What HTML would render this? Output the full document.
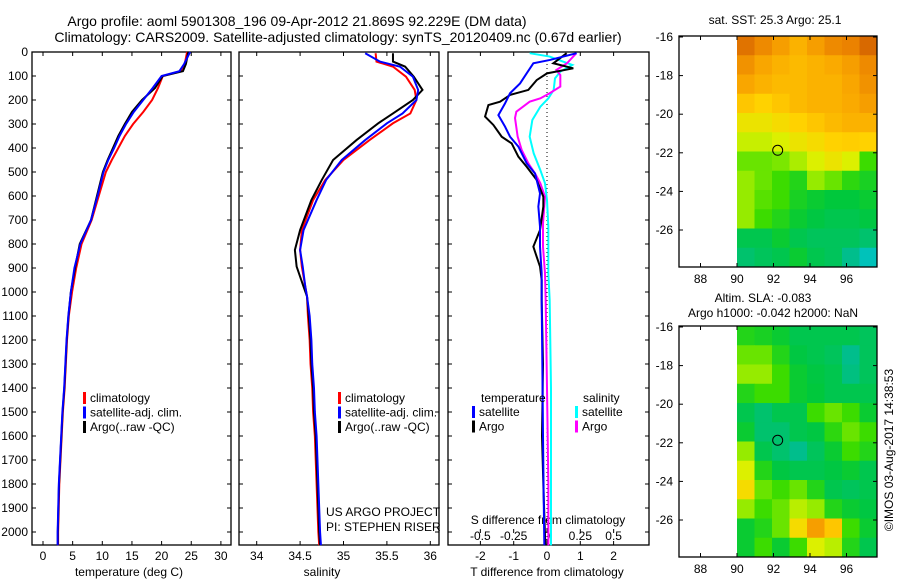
<!DOCTYPE html>
<html><head><meta charset="utf-8"><style>
body{margin:0;background:#fff;width:900px;height:580px;overflow:hidden}
svg{font-family:"Liberation Sans",sans-serif;font-size:12px}
</style></head><body>
<svg id="c" width="900" height="580"></svg>
<script>
// ---- data ----
const depthAxisTicks=[0,100,200,300,400,500,600,700,800,900,1000,1100,1200,1300,1400,1500,1600,1700,1800,1900,2000];
const tempTicks=[0,5,10,15,20,25,30];
const salTicks=[34,34.5,35,35.5,36];
const salTickLabels=["34","34.5","35","35.5","36"];
const tdTicks=[-2,-1,0,1,2];
const sdTicks=[-0.5,-0.25,0,0.25,0.5];
const sdTickLabels=["-0.5","-0.25","0","0.25","0.5"];
const deepDepths=[1100,1200,1300,1400,1500,1600,1700,1800,1900,2000,2055];
const tempDepths=[0,50,80,100,150,200,250,300,350,400,450,500,600,700,800,900,1000];
const tempArgo=[24.5,24.1,23.6,20.2,18.9,16.7,15.0,13.8,12.7,11.8,10.9,10.1,9.1,8.1,6.2,5.4,4.7];
const tempClim=[24.3,23.9,23.2,20.2,19.4,18.4,16.9,15.2,13.8,12.7,11.6,10.6,9.4,8.2,6.5,5.6,4.9];
const tempSat=[24.8,23.8,23.0,20.0,18.5,16.9,15.3,14.0,12.9,12.0,11.0,10.2,9.2,8.1,6.3,5.3,4.7];
const tempDeep=[4.3,4.0,3.8,3.6,3.3,3.1,2.9,2.7,2.6,2.5,2.5];
const salDepths=[5,40,61,103,158,200,256,297,367,450,533,617,742,825,894,978,1019];
const salClim=[35.37,35.38,35.57,35.72,35.82,35.84,35.77,35.57,35.30,35.00,34.79,34.65,34.52,34.50,34.52,34.56,34.58];
const salSat=[35.25,35.42,35.65,35.80,35.86,35.84,35.68,35.50,35.25,34.98,34.80,34.69,34.54,34.50,34.53,34.56,34.58];
const salArgo=[35.57,35.57,35.71,35.81,35.91,35.80,35.57,35.40,35.15,34.88,34.75,34.63,34.50,34.44,34.46,34.54,34.58];
const salDeep=[34.60,34.62,34.63,34.65,34.66,34.68,34.69,34.70,34.71,34.72,34.73];
const tdArgoD=[5,47,68,89,117,158,179,207,221,269,304,353,381,436,478,533,603,644,742,811,853,894,950,1033,1300,1600,1850,2055];
const tdArgo=[0.59,0.19,0.79,0,-0.31,-0.56,-1.11,-1.41,-1.76,-1.86,-1.61,-1.36,-1.06,-0.86,-0.61,-0.31,-0.11,-0.11,-0.21,-0.41,-0.31,-0.21,-0.16,-0.16,-0.12,-0.15,-0.1,-0.05];
const tdSatD=[5,33,47,89,131,172,214,263,311,353,394,464,506,589,644,728,811,922,1033,1300,1600,1850,2055];
const tdSat=[0.89,0.09,-0.41,-0.61,-0.81,-1.11,-1.26,-1.46,-1.26,-1.11,-0.86,-0.61,-0.36,-0.21,-0.26,-0.21,-0.21,-0.16,-0.16,-0.14,-0.12,-0.1,-0.08];
const sdArgoD=[5,47,75,96,144,172,193,207,249,275,353,408,464,506,547,603,714,811,922,1033,1400,1800,2055];
const sdArgo=[0.22,0.15,0.07,0.10,0.10,0.02,-0.05,-0.13,-0.23,-0.24,-0.22,-0.19,-0.14,-0.09,-0.05,-0.015,-0.03,-0.03,-0.015,-0.01,0.0,0.01,0.01];
const sdSatD=[5,19,40,54,82,110,158,193,228,283,353,422,492,547,617,728,922,1033,1400,1800,2055];
const sdSat=[-0.13,0.02,0.12,0.19,0.10,0.06,0.05,0.01,-0.05,-0.11,-0.13,-0.10,-0.05,-0.015,0,0.01,0.01,0.02,0.03,0.03,0.03];
const lonTicks=[88,90,92,94,96];
const latTicks=[-16,-18,-20,-22,-24,-26];
const sstGrid=[
[.95,.9,.85,.8,.85,.9,.92,.97],[.88,.83,.8,.78,.8,.82,.85,.9],[.83,.8,.78,.78,.8,.8,.83,.88],
[.75,.72,.75,.78,.8,.8,.82,.85],[.68,.68,.7,.72,.75,.78,.8,.8],[.62,.62,.65,.68,.7,.72,.73,.72],
[.5,.5,.52,.58,.65,.68,.65,.45],[.55,.5,.45,.4,.55,.5,.42,.38],[.55,.48,.45,.38,.35,.33,.33,.35],
[.55,.45,.4,.35,.32,.3,.3,.32],[.3,.3,.35,.3,.28,.28,.28,.25],[.25,.28,.3,.35,.3,.28,.2,.12]];
const slaGrid=[
[.4,.38,.35,.3,.3,.3,.3,.28],[.5,.5,.4,.32,.3,.28,.2,.28],[.55,.55,.45,.35,.32,.3,.22,.28],
[.4,.45,.45,.35,.33,.3,.3,.3],[.3,.25,.3,.3,.45,.5,.45,.35],[.35,.25,.25,.3,.32,.42,.5,.45],
[.55,.3,.25,.2,.28,.35,.45,.4],[.65,.4,.32,.3,.3,.32,.35,.3],[.7,.5,.45,.5,.4,.3,.28,.3],
[.55,.45,.5,.6,.55,.4,.35,.32],[.35,.4,.5,.7,.85,.75,.45,.35],[.35,.45,.35,.45,.65,.6,.4,.3]];
const floatLon=92.229, floatLat=-21.869;

const NS="http://www.w3.org/2000/svg";
const svg=document.getElementById('c');
function el(tag,attrs,parent){const e=document.createElementNS(NS,tag);for(const k in attrs)e.setAttribute(k,attrs[k]);(parent||svg).appendChild(e);return e;}
function txt(s,x,y,anchor,parent,size){const t=el('text',{x:x,y:y,'text-anchor':anchor||'middle'},parent);if(size)t.setAttribute('font-size',size);t.textContent=s;return t;}
const yD=d=>52+d*0.24;
const xT=t=>43+t*5.93;
const xS=s=>256.7+(s-34)*86.8;
const xTD=v=>547+v*33.3;
const xSD=v=>547+v*133.3;
const TOP=52,BOT=545;

function panel(name,x0,x1){
  const g=el('g',{});
  
  
  el('rect',{x:x0,y:TOP,width:x1-x0,height:BOT-TOP,fill:'none',stroke:'#000','stroke-width':1.3},g);
  depthAxisTicks.forEach(d=>{el('line',{x1:x0,x2:x0+4,y1:yD(d),y2:yD(d),stroke:'#000'},g);el('line',{x1:x1-4,x2:x1,y1:yD(d),y2:yD(d),stroke:'#000'},g);});
  return g;
}
function line(g,name,xs,ds,color,xf,w){
  const p=el('polyline',{points:xs.map((v,i)=>xf(v)+','+yD(ds[i])).join(' '),fill:'none',stroke:color,'stroke-width':w||2},g);
  
  
}
// titles
const t1=txt('Argo profile: aoml 5901308_196 09-Apr-2012 21.869S 92.229E (DM data)',297,26,'middle',null,14);


const t2=txt('Climatology: CARS2009. Satellite-adjusted climatology: synTS_20120409.nc (0.67d earlier)',338,42,'middle',null,14);


// depth labels
depthAxisTicks.forEach(d=>{const t=txt(String(d),28,yD(d)+4,'end');});

// panel 1 temperature
const g1=panel('temperature-panel',32,231);
tempTicks.forEach(t=>{el('line',{x1:xT(t),x2:xT(t),y1:BOT,y2:BOT-4,stroke:'#000'},g1);el('line',{x1:xT(t),x2:xT(t),y1:TOP,y2:TOP+4,stroke:'#000'},g1);txt(String(t),xT(t),560,'middle',g1);});
txt('temperature (deg C)',129,576,'middle',g1);
line(g1,'temp-climatology-line',tempClim.concat(tempDeep.map(v=>v+0.05)),tempDepths.concat(deepDepths),'#f00',xT);
line(g1,'temp-argo-line',tempArgo.concat(tempDeep),tempDepths.concat(deepDepths),'#000',xT);
line(g1,'temp-satellite-line',tempSat.concat(tempDeep.map(v=>v-0.03)),tempDepths.concat(deepDepths),'#00f',xT);
function legend(g,x,y,items){items.forEach((it,i)=>{el('rect',{x:x,y:y+i*14.5-10,width:3,height:12,fill:it[1]},g);const t=txt(it[0],x+7,y+i*14.5,'start',g);});}
legend(g1,83,402,[['climatology','#f00'],['satellite-adj. clim.','#00f'],['Argo(..raw -QC)','#000']]);

// panel 2 salinity
const g2=panel('salinity-panel',239,439);
salTicks.forEach((s,i)=>{el('line',{x1:xS(s),x2:xS(s),y1:BOT,y2:BOT-4,stroke:'#000'},g2);el('line',{x1:xS(s),x2:xS(s),y1:TOP,y2:TOP+4,stroke:'#000'},g2);txt(salTickLabels[i],xS(s),560,'middle',g2);});
txt('salinity',322,576,'middle',g2);
line(g2,'sal-climatology-line',salClim.concat(salDeep.map(v=>v-0.01)),salDepths.concat(deepDepths),'#f00',xS);
line(g2,'sal-argo-line',salArgo.concat(salDeep),salDepths.concat(deepDepths),'#000',xS);
line(g2,'sal-satellite-line',salSat.concat(salDeep.map(v=>v+0.01)),salDepths.concat(deepDepths),'#00f',xS);
legend(g2,338,402,[['climatology','#f00'],['satellite-adj. clim.','#00f'],['Argo(..raw -QC)','#000']]);
txt('US ARGO PROJECT',326,516,'start',g2);
txt('PI: STEPHEN RISER',326,531,'start',g2);

// panel 3 differences
const g3=panel('difference-panel',448,649);
el('line',{x1:547,x2:547,y1:TOP,y2:BOT,stroke:'#000','stroke-dasharray':'1,3'},g3);
tdTicks.forEach(t=>{el('line',{x1:xTD(t),x2:xTD(t),y1:BOT,y2:BOT-4,stroke:'#000'},g3);el('line',{x1:xTD(t),x2:xTD(t),y1:TOP,y2:TOP+4,stroke:'#000'},g3);txt(String(t),xTD(t),560,'middle',g3);});
sdTicks.forEach((s,i)=>{el('line',{x1:xSD(s),x2:xSD(s),y1:529,y2:533,stroke:'#000'},g3);txt(sdTickLabels[i],xSD(s),540,'middle',g3);});
txt('S difference from climatology',548,524,'middle',g3);
txt('T difference from climatology',547,576,'middle',g3);
line(g3,'sdiff-satellite-line',sdSat,sdSatD,'#0ff',xSD);
line(g3,'sdiff-argo-line',sdArgo,sdArgoD,'#f0f',xSD);
line(g3,'tdiff-argo-line',tdArgo,tdArgoD,'#000',xTD);
line(g3,'tdiff-satellite-line',tdSat,tdSatD,'#00f',xTD);
txt('temperature',481,402,'start',g3);txt('salinity',583,402,'start',g3);
legend(g3,472,416,[['satellite','#00f'],['Argo','#000']]);
legend(g3,575,416,[['satellite','#0ff'],['Argo','#f0f']]);

// maps
const stops=[[0,[0,200,255]],[0.2,[0,190,140]],[0.33,[0,200,60]],[0.45,[60,220,0]],[0.55,[150,235,0]],[0.65,[220,240,0]],[0.72,[255,210,0]],[0.82,[250,170,0]],[0.92,[235,130,0]],[1,[205,90,0]]];
function cmap(v){for(let i=1;i<stops.length;i++){if(v<=stops[i][0]){const a=stops[i-1],b=stops[i],f=(v-a[0])/(b[0]-a[0]);return 'rgb('+a[1].map((c,k)=>Math.round(c+(b[1][k]-c)*f)).join(',')+')';}}return 'rgb(205,90,0)';}
function map(name,top,grid,titles){
  const g=el('g',{});
  
  
  const X0=679,X1=877,Y1=top+231;
  const xL=l=>737+(l-90)*18.25, yL=a=>top+1+(-16-a)*19.3;
  const cw=(X1-737)/grid[0].length, ch=(Y1-top)/grid.length;
  grid.forEach((row,r)=>row.forEach((v,c)=>{const cell=el('rect',{x:737+c*cw,y:top+r*ch,width:cw+0.5,height:ch+0.5,fill:cmap(v)},g);}));
  el('rect',{x:X0,y:top,width:X1-X0,height:Y1-top,fill:'none',stroke:'#000','stroke-width':1.3},g);
  lonTicks.forEach(l=>{el('line',{x1:xL(l),x2:xL(l),y1:Y1,y2:Y1-4,stroke:'#000'},g);el('line',{x1:xL(l),x2:xL(l),y1:top,y2:top+4,stroke:'#000'},g);txt(String(l),xL(l),Y1+16,'middle',g);});
  latTicks.forEach(a=>{el('line',{x1:X0,x2:X0+4,y1:yL(a),y2:yL(a),stroke:'#000'},g);el('line',{x1:X1-4,x2:X1,y1:yL(a),y2:yL(a),stroke:'#000'},g);txt(String(a),673,yL(a)+4,'end',g);});
  const m=el('circle',{cx:xL(floatLon),cy:yL(floatLat),r:5,fill:'none',stroke:'#000'},g);
  
  
  titles.forEach(t=>{const tt=txt(t[0],t[1],t[2],'middle',g);});
}
map('sst-map',36,sstGrid,[['sat. SST: 25.3 Argo: 25.1',775,24]]);
map('sla-map',326,slaGrid,[['Altim. SLA: -0.083',763,302],['Argo h1000: -0.042 h2000: NaN',773,317]]);
const cr=txt('©IMOS 03-Aug-2017 14:38:53',0,0,'middle');
cr.setAttribute('transform','translate(893,450) rotate(-90)');


</script>
</body></html>
